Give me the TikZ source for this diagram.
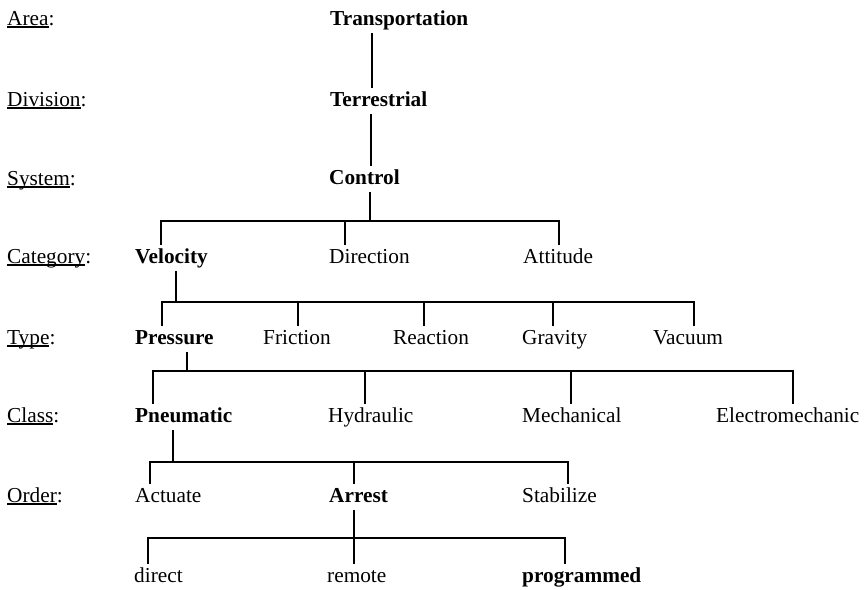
\documentclass[tikz,border=0pt]{standalone}
\usepackage{fontspec}
\setmainfont{Liberation Serif}
% underline a word with a rule just below its baseline
\newcommand\ulword[1]{\setbox0\hbox{#1}\rlap{\rule[-2.6pt]{\wd0}{1.2pt}}\box0}
\begin{document}
\begin{tikzpicture}[x=1pt,y=-1pt,
  every node/.style={font=\fontsize{21.3}{25}\selectfont},
  lvl/.style={anchor=base west, inner sep=0pt},
  term/.style={anchor=base west, inner xsep=0pt, inner ysep=5pt,
               text height=14pt, text depth=4pt},
  key/.style={term, font=\fontsize{21.3}{25}\selectfont\bfseries},
  link/.style={line width=1.5pt, line cap=rect}]
\useasboundingbox (0,0) rectangle (866,589);

% level names
\node[lvl] (lArea)  at (7,25)  {\ulword{Area}:};
\node[lvl] (lDiv)   at (7,106) {\ulword{Division}:};
\node[lvl] (lSys)   at (7,185) {\ulword{System}:};
\node[lvl] (lCat)   at (7,263) {\ulword{Category}:};
\node[lvl] (lType)  at (7,344) {\ulword{Type}:};
\node[lvl] (lClass) at (7,422) {\ulword{Class}:};
\node[lvl] (lOrder) at (7,502) {\ulword{Order}:};

% hierarchy entries
\node[key]  (trans) at (330,25)  {Transportation};
\node[key]  (terr)  at (330,106) {Terrestrial};
\node[key]  (ctl)   at (329,184) {Control};

\node[key]  (vel)   at (135,263) {Velocity};
\node[term] (dir)   at (329,263) {Direction};
\node[term] (att)   at (523,263) {Attitude};

\node[key]  (pres)  at (135,344) {Pressure};
\node[term] (fric)  at (263,344) {Friction};
\node[term] (reac)  at (393,344) {Reaction};
\node[term] (grav)  at (522,344) {Gravity};
\node[term] (vac)   at (653,344) {Vacuum};

\node[key]  (pneu)  at (135,422) {Pneumatic};
\node[term] (hyd)   at (328,422) {Hydraulic};
\node[term] (mech)  at (522,422) {Mechanical};
\node[term] (elec)  at (716,422) {Electromechanic};

\node[term] (act)   at (135,502) {Actuate};
\node[key]  (arr)   at (329,502) {Arrest};
\node[term] (stab)  at (522,502) {Stabilize};

\node[term] (dirc)  at (134,582) {direct};
\node[term] (rem)   at (327,582) {remote};
\node[key]  (prog)  at (522,582) {programmed};

% junction points of the branch bars
\coordinate (j1) at (370,221);
\coordinate (j2) at (176,302);
\coordinate (j3) at (187,371);
\coordinate (j4) at (173,462);
\coordinate (j5) at (354,538);

% single links
\draw[link] (trans.south -| 372,0) -- (terr.north -| 372,0);
\draw[link] (terr.south -| 371,0) -- (ctl.north -| 371,0);

% Control -> categories
\draw[link] (ctl.south -| j1) -- (j1);
\draw[link] (vel.north -| 161,0) |- (j1) -| (att.north -| 559,0);
\draw[link] (dir.north -| 345,0) -- (345,221);

% Velocity -> types
\draw[link] (vel.south -| j2) -- (j2);
\draw[link] (pres.north -| 162,0) |- (j2) -| (vac.north -| 694,0);
\draw[link] (fric.north -| 298,0) -- (298,302);
\draw[link] (reac.north -| 424,0) -- (424,302);
\draw[link] (grav.north -| 553,0) -- (553,302);

% Pressure -> classes
\draw[link] (pres.south -| j3) -- (j3);
\draw[link] (pneu.north -| 153,0) |- (j3) -| (elec.north -| 793,0);
\draw[link] (hyd.north -| 365,0) -- (365,371);
\draw[link] (mech.north -| 571,0) -- (571,371);

% Pneumatic -> orders
\draw[link] (pneu.south -| j4) -- (j4);
\draw[link] (act.north -| 150,0) |- (j4) -| (stab.north -| 568,0);
\draw[link] (arr.north -| 354,0) -- (354,462);

% Arrest -> modes
\draw[link] (arr.south -| j5) -- (rem.north -| j5);
\draw[link] (dirc.north -| 148,0) |- (j5) -| (prog.north -| 565,0);
\end{tikzpicture}
\end{document}
